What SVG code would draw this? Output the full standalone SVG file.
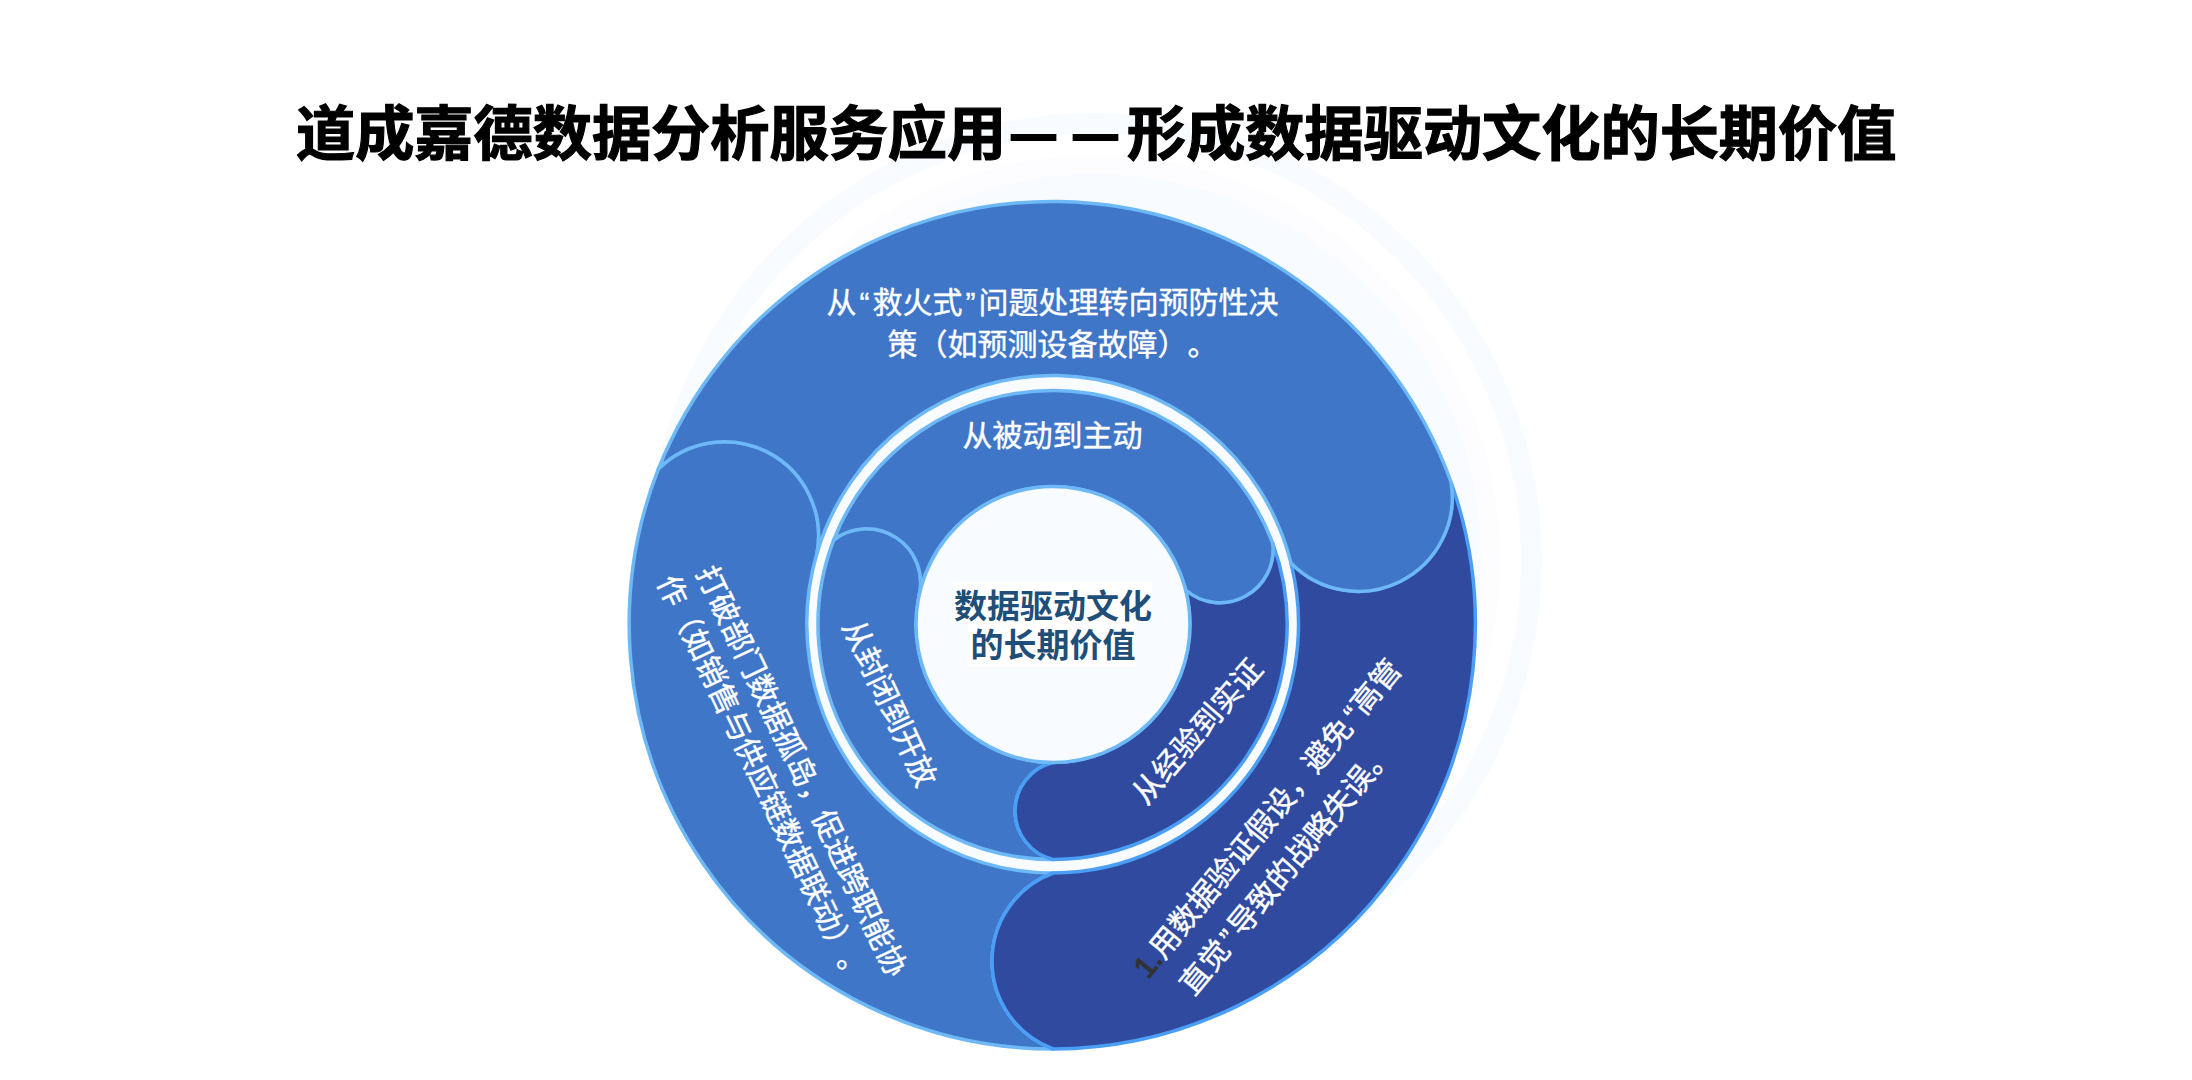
<svg xmlns="http://www.w3.org/2000/svg" width="2192" height="1080" viewBox="0 0 2192 1080">
<style>
text{font-family:"Liberation Sans","Noto Sans CJK SC",sans-serif;text-spacing-trim:space-all}
.t{font-size:30px;fill:#fff;text-anchor:middle;stroke:#fff;stroke-width:.4}
.title{font-size:59.2px;font-weight:700;fill:#000;stroke:#000;stroke-width:1.2}
.dash{font-family:"Noto Sans CJK SC",sans-serif;font-size:54px;stroke-width:2}
.c{font-size:33px;font-weight:700;fill:#1f4e79;text-anchor:middle}
.mid{fill:#4076c8;stroke:#6db8f7;stroke-width:3.5;stroke-linejoin:round}
.dark{fill:#2f4a9f;stroke:#4a9ef5;stroke-width:3.5;stroke-linejoin:round}
</style>
<rect width="2192" height="1080" fill="#fff"/>
<g id="background">
<circle cx="1095" cy="560" r="447" fill="#f8fbff"/>
<circle cx="1095" cy="560" r="426" fill="#fff"/>
<circle cx="1095" cy="560" r="405" fill="#fdfdff"/>
<circle cx="1095" cy="560" r="386" fill="#f8fbff"/>
<ellipse cx="1052.5" cy="624" rx="246" ry="249" fill="#f8fbff"/>
</g>
<text id="title" class="title" y="155"><tspan x="296">道成嘉德数据分析服务应用</tspan><tspan class="dash" x="1009" y="153">—</tspan><tspan class="dash" x="1071" y="153">—</tspan><tspan x="1127" y="155">形成数据驱动文化的长期价值</tspan></text>
<g id="outer-ring">
<g id="outer-left"><path class="mid" d="M1053,1049A424,425 0 0 1 658.4,469A94,94 0 0 1 817,553A246,249 0 0 0 1053,873A94,94 0 0 0 1053,1049Z"/>
<text class="t" transform="translate(802,771) rotate(64.6)" y="11">打破部门数据孤岛，促进跨职能协</text>
<text class="t" transform="translate(763,780) rotate(64.6)" y="11">作（如销售与供应链数据联动）。</text></g>
<g id="outer-dark"><path class="dark" d="M1451,482A424,425 0 0 1 1053,1049A94,94 0 0 1 1053,873A246,249 0 0 0 1291,563A94,94 0 0 0 1451,482Z"/>
<text class="t" transform="translate(1267,818) rotate(-50.5)" y="11"><tspan fill="#333" stroke="#333" stroke-width="1.4">1.</tspan>用数据验证假设，避免<tspan dx="5">“</tspan><tspan dx="1">高管</tspan></text>
<text class="t" transform="translate(1286,868) rotate(-50.5)" y="11">直觉<tspan dx="3">”</tspan><tspan dx="3">导致的战略失误。</tspan></text></g>
<g id="outer-top"><path class="mid" d="M658.4,469A424,425 0 0 1 1451,482A94,94 0 0 1 1291,563A246,249 0 0 0 817,553A94,94 0 0 0 658.4,469Z"/>
<text class="t" x="1052.5" y="312.5">从<tspan dx="3">“</tspan><tspan dx="3">救火式</tspan><tspan dx="3">”</tspan><tspan dx="3">问题处理转向预防性决</tspan></text>
<text class="t" x="1052.5" y="354.5">策（如预测设备故障）。</text></g>
</g>
<g id="inner-ring">
<g id="inner-left"><path class="mid" d="M1053,859.5A235,235 0 0 1 833.7,540A54,54 0 0 1 919,596A137,138 0 0 0 1053,762.5A50,50 0 0 0 1053,859.5Z"/>
<text class="t" transform="translate(890,703) rotate(64.8)" y="11">从封闭到开放</text></g>
<g id="inner-dark"><path class="dark" d="M1272.6,543A235,235 0 0 1 1053,859.5A50,50 0 0 1 1053,762.5A137,138 0 0 0 1185.6,590A53,53 0 0 0 1272.6,543Z"/>
<text class="t" transform="translate(1197,731) rotate(-49)" y="11">从经验到实证</text></g>
<g id="inner-top"><path class="mid" d="M833.7,540A235,235 0 0 1 1272.6,543A53,53 0 0 1 1185.6,590A137,138 0 0 0 919,596A54,54 0 0 0 833.7,540Z"/>
<text class="t" x="1052.5" y="446">从被动到主动</text></g>
</g>
<g id="center">
<ellipse cx="1053" cy="624.5" rx="137" ry="138" fill="#f8fbff" stroke="#6db8f7" stroke-width="3.5"/>
<rect x="953" y="582" width="199" height="39" fill="#fff"/>
<rect x="968" y="621" width="168" height="46" fill="#fff"/>
<text class="c" x="1053" y="618">数据驱动文化</text>
<text class="c" x="1053" y="657">的长期价值</text>
</g>
</svg>
